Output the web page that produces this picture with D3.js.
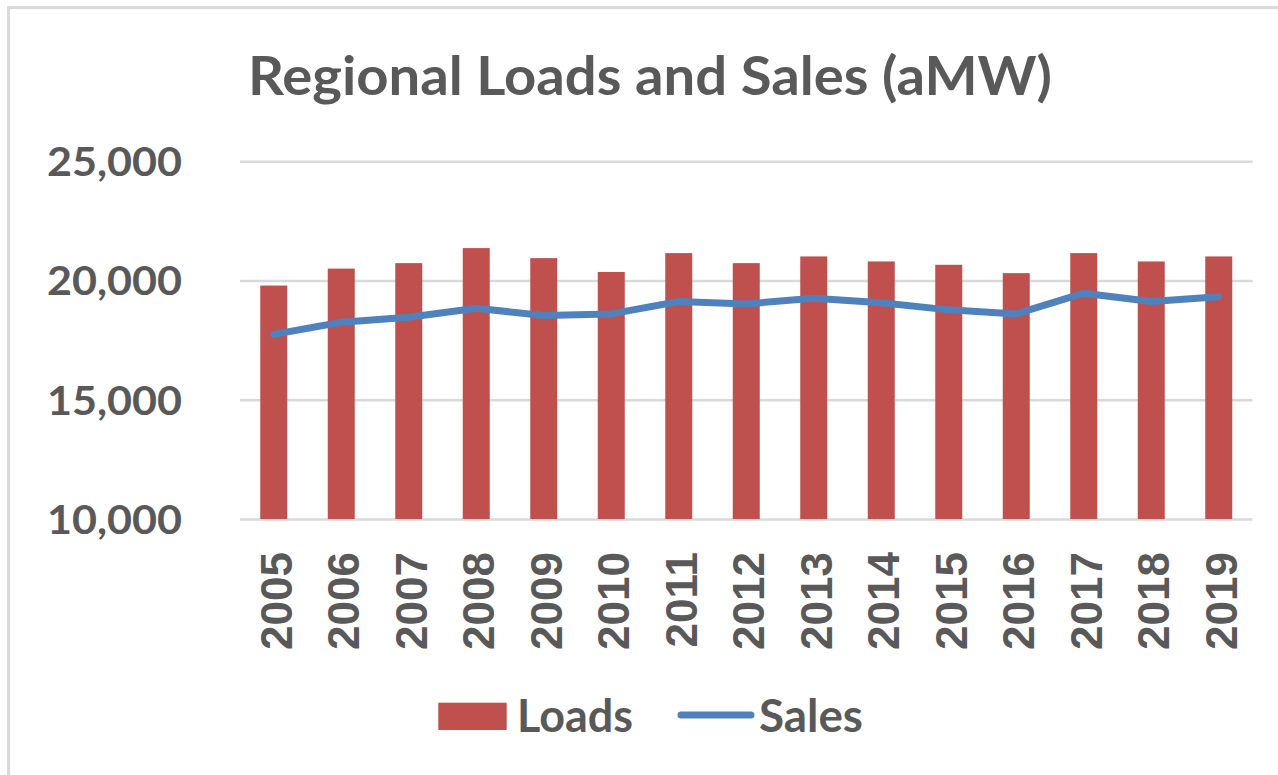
<!DOCTYPE html>
<html>
<head>
<meta charset="utf-8">
<script src="https://cdn.jsdelivr.net/npm/d3@7"></script>
<style>
  html, body { margin: 0; padding: 0; background: #fff; overflow: hidden; }
</style>
</head>
<body>
<svg id="chart"></svg>
<script>
const years = ["2005", "2006", "2007", "2008", "2009", "2010", "2011", "2012", "2013", "2014", "2015", "2016", "2017", "2018", "2019"]
const loads = [19790, 20500, 20730, 21360, 20940, 20360, 21150, 20730, 21010, 20800, 20660, 20310, 21150, 20800, 21010]
const sales = [17740, 18250, 18460, 18840, 18530, 18600, 19120, 19020, 19260, 19070, 18770, 18600, 19470, 19120, 19320]
const yTicks = [10000, 15000, 20000, 25000]

const w = 1278
const h = 775
const plotLeft = 240
const plotRight = 1252.5
const plotTop = 161.3
const plotBottom = 519

const textColor = "#595959"
const gridColor = "#D9D9D9"
const barColor = "#C0504D"
const lineColor = "#4F81BD"
const calFont = "Lato, 'Open Sans', sans-serif"

const svg = d3.select("#chart").attr("width", w).attr("height", h)

// frame
svg.append("rect")
  .attr("x", 8.5).attr("y", 7.5)
  .attr("width", w + 20).attr("height", h + 20)
  .attr("fill", "none")
  .attr("stroke", gridColor)
  .attr("stroke-width", 3)

// title
svg.append("text")
  .attr("x", 248).attr("y", 95)
  .attr("textLength", 804)
  .attr("lengthAdjust", "spacingAndGlyphs")
  .style("font-family", calFont)
  .style("font-weight", "bold")
  .style("font-size", "54px")
  .attr("fill", textColor)
  .text("Regional Loads and Sales (aMW)")

const x = d3.scaleBand()
  .domain(years)
  .range([plotLeft, plotRight])
  .paddingInner(0.6)
  .paddingOuter(0.3)

const y = d3.scaleLinear()
  .domain([10000, 25000])
  .range([plotBottom, plotTop])

// gridlines + y labels
const yAxis = d3.axisLeft(y)
  .tickValues(yTicks)
  .tickSize(-(plotRight - plotLeft))
  .tickPadding(58)
  .tickFormat(d3.format(","))

const gy = svg.append("g")
  .attr("transform", `translate(${plotLeft},0)`)
  .call(yAxis)
gy.select(".domain").remove()
gy.selectAll(".tick line")
  .attr("stroke", gridColor)
  .attr("stroke-width", 2.5)
gy.selectAll(".tick text")
  .attr("fill", textColor)
  .attr("textLength", 135)
  .attr("lengthAdjust", "spacingAndGlyphs")
  .attr("dy", "0.36em")
  .style("font-family", calFont)
  .style("font-weight", "bold")
  .style("font-size", "40px")

// bars
svg.append("g")
  .selectAll("rect")
  .data(loads)
  .join("rect")
  .attr("x", (d, i) => x(years[i]))
  .attr("y", (d) => y(d))
  .attr("width", x.bandwidth())
  .attr("height", (d) => y(10000) - y(d))
  .attr("fill", barColor)

// x labels
svg.append("g")
  .selectAll("text")
  .data(years)
  .join("text")
  .attr("transform", (d) => `translate(${x(d) + x.bandwidth() / 2 + 18},552) rotate(-90)`)
  .attr("text-anchor", "end")
  .attr("fill", textColor)
  .style("font-family", "'Liberation Sans', Arial, sans-serif")
  .style("font-weight", "bold")
  .style("font-size", "44px")
  .text((d) => d)

// sales line
const line = d3.line()
  .x((d, i) => x(years[i]) + x.bandwidth() / 2)
  .y((d) => y(d))

svg.append("path")
  .datum(sales)
  .attr("d", line)
  .attr("fill", "none")
  .attr("stroke", lineColor)
  .attr("stroke-width", 7)
  .attr("stroke-linejoin", "round")
  .attr("stroke-linecap", "round")

// legend
const legend = svg.append("g")
legend.append("rect")
  .attr("x", 438.3).attr("y", 702.7)
  .attr("width", 68.4).attr("height", 27.3)
  .attr("fill", barColor)
legend.append("text")
  .attr("x", 517).attr("y", 731.5)
  .attr("textLength", 116)
  .attr("lengthAdjust", "spacingAndGlyphs")
  .attr("fill", textColor)
  .style("font-family", calFont)
  .style("font-weight", "bold")
  .style("font-size", "46px")
  .text("Loads")
legend.append("line")
  .attr("x1", 681).attr("x2", 751)
  .attr("y1", 715).attr("y2", 715)
  .attr("stroke", lineColor)
  .attr("stroke-width", 7)
  .attr("stroke-linecap", "round")
legend.append("text")
  .attr("x", 759).attr("y", 731.5)
  .attr("textLength", 104)
  .attr("lengthAdjust", "spacingAndGlyphs")
  .attr("fill", textColor)
  .style("font-family", calFont)
  .style("font-weight", "bold")
  .style("font-size", "46px")
  .text("Sales")
</script>
</body>
</html>
